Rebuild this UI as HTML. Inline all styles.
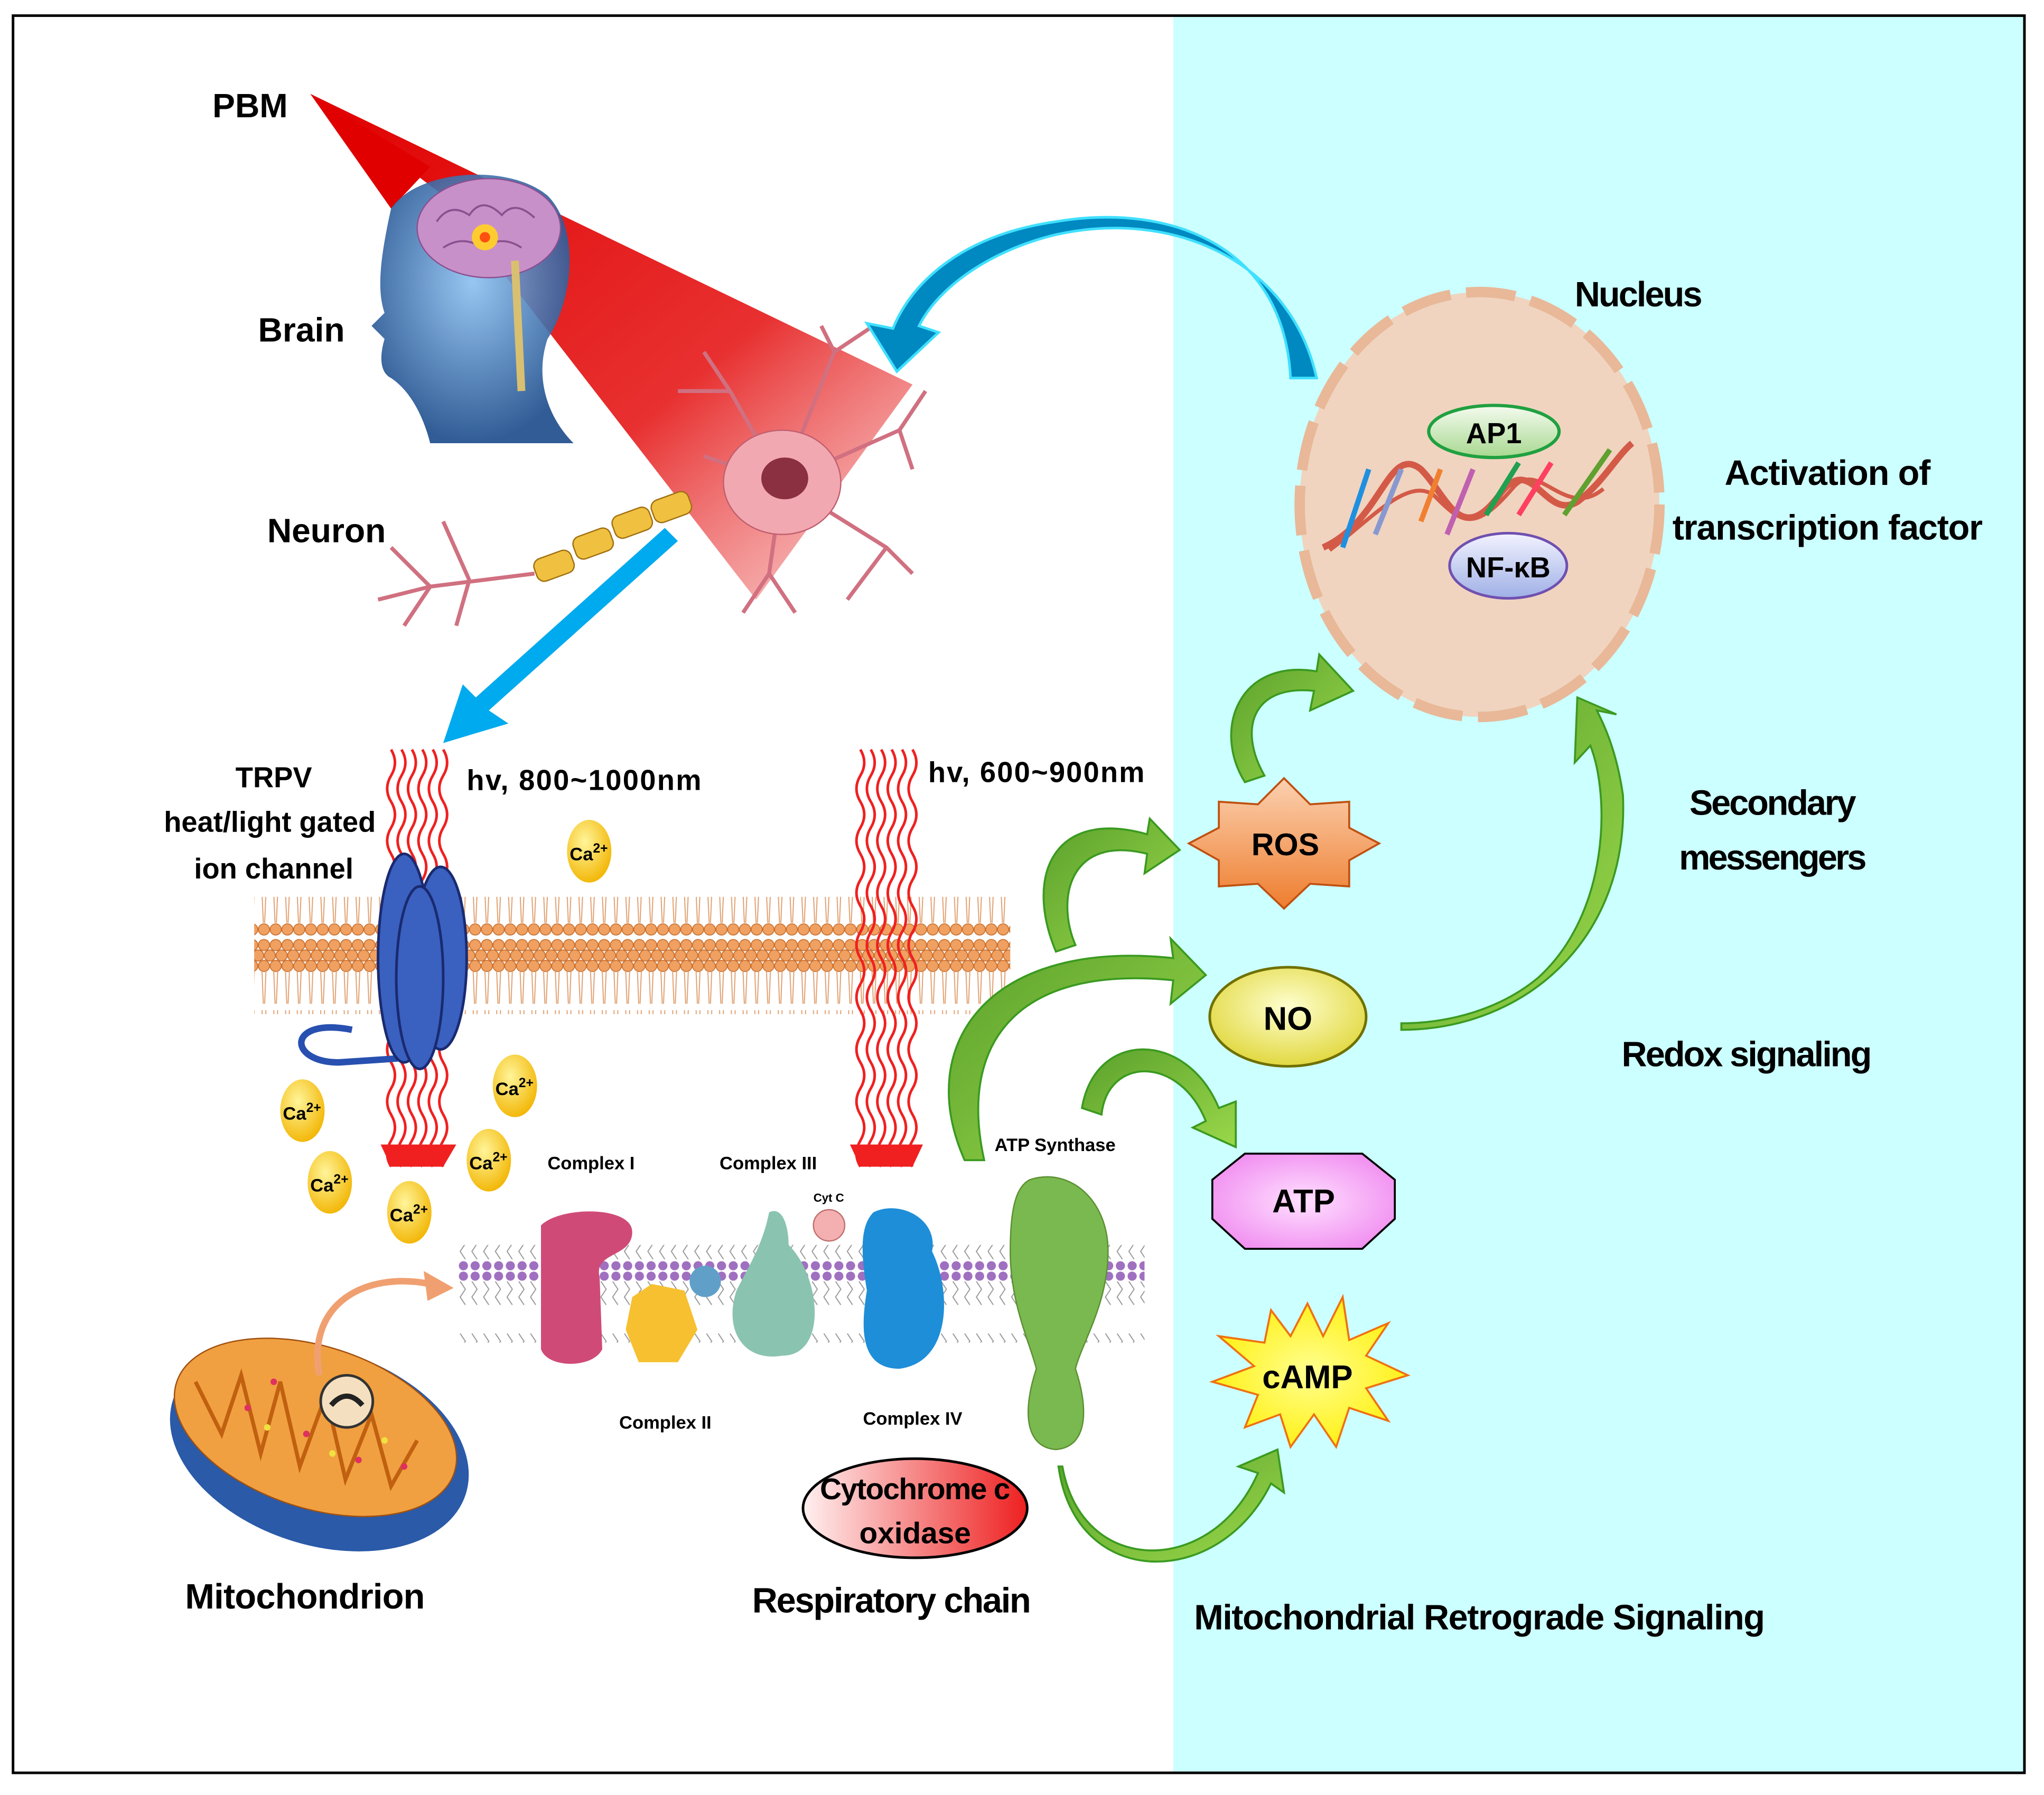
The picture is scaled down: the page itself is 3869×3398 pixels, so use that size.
<!DOCTYPE html>
<html><head><meta charset="utf-8"><style>
html,body{margin:0;padding:0;background:#fff}
svg{display:block}
text{font-family:"Liberation Sans",sans-serif;font-weight:bold;fill:#000}
</style></head><body>
<svg width="3869" height="3398" viewBox="0 0 1568 1377" preserveAspectRatio="none" xmlns="http://www.w3.org/2000/svg">
<defs>
<linearGradient id="beam" x1="0" y1="0" x2="1" y2="1"><stop offset="0" stop-color="#e00000"/><stop offset="0.6" stop-color="#e83030"/><stop offset="1" stop-color="#f6b0b0" stop-opacity="0.6"/></linearGradient>
<radialGradient id="head" cx="0.5" cy="0.4" r="0.6"><stop offset="0" stop-color="#8cc0f0"/><stop offset="1" stop-color="#1a4a8a"/></radialGradient>
<radialGradient id="ca" cx="0.4" cy="0.35" r="0.7"><stop offset="0" stop-color="#fff59a"/><stop offset="1" stop-color="#f2b400"/></radialGradient>
<linearGradient id="ap1" x1="0" y1="0" x2="0" y2="1"><stop offset="0" stop-color="#f4fbef"/><stop offset="1" stop-color="#a8d890"/></linearGradient>
<linearGradient id="nfkb" x1="0" y1="0" x2="0" y2="1"><stop offset="0" stop-color="#f3f3ff"/><stop offset="1" stop-color="#9fb0e6"/></linearGradient>
<linearGradient id="ros" x1="0" y1="0" x2="0" y2="1"><stop offset="0" stop-color="#fbd1b0"/><stop offset="1" stop-color="#ee7d2e"/></linearGradient>
<radialGradient id="no" cx="0.5" cy="0.4" r="0.6"><stop offset="0" stop-color="#ffffd0"/><stop offset="1" stop-color="#e1d840"/></radialGradient>
<radialGradient id="atp" cx="0.5" cy="0.5" r="0.6"><stop offset="0" stop-color="#ffe0ff"/><stop offset="1" stop-color="#f08cf0"/></radialGradient>
<radialGradient id="camp" cx="0.5" cy="0.5" r="0.6"><stop offset="0" stop-color="#ffff90"/><stop offset="1" stop-color="#ffee00"/></radialGradient>
<linearGradient id="cyto" x1="0" y1="0" x2="1" y2="0"><stop offset="0" stop-color="#fff0f0"/><stop offset="1" stop-color="#ee2020"/></linearGradient>
<linearGradient id="green" x1="0" y1="0" x2="1" y2="1"><stop offset="0" stop-color="#5aa02c"/><stop offset="1" stop-color="#9ad84a"/></linearGradient>
<pattern id="lipid" width="9" height="90" patternUnits="userSpaceOnUse">
<circle cx="4.5" cy="5" r="4.3" fill="#f0a060" stroke="#c87030" stroke-width="0.7"/>
<circle cx="0" cy="13" r="4.3" fill="#f0a060" stroke="#c87030" stroke-width="0.7"/>
<circle cx="9" cy="13" r="4.3" fill="#f0a060" stroke="#c87030" stroke-width="0.7"/>
<circle cx="4.5" cy="21" r="4.3" fill="#f0a060" stroke="#c87030" stroke-width="0.7"/>
<path d="M3 25 L4 50 M6 25 L5 50" stroke="#e0a070" stroke-width="0.8"/>
<path d="M3 55 L4 78 M6 55 L5 78" stroke="#e0a070" stroke-width="0.8"/>
<circle cx="4.5" cy="83" r="4.3" fill="#f0a060" stroke="#c87030" stroke-width="0.7"/>
</pattern>
<pattern id="lipid2" width="9" height="75" patternUnits="userSpaceOnUse">
<circle cx="4.5" cy="4" r="3.5" fill="#a070c0"/>
<path d="M2 8 L6 14 L2 20 L6 26" stroke="#999" stroke-width="0.8" fill="none"/>
<path d="M2 48 L6 54 L2 60 L6 66" stroke="#999" stroke-width="0.8" fill="none"/>
<circle cx="4.5" cy="71" r="3.5" fill="#a070c0"/>
</pattern>
<path id="wave" d="M0 0 q6 10 0 20 q-6 10 0 20 q6 10 0 20 q-6 10 0 20 q6 10 0 20 q-6 10 0 20 q6 10 0 20 q-6 10 0 20 q6 10 0 20 q-6 10 0 20 q6 10 0 20 q-6 10 0 20 q6 10 0 20 q-6 10 0 20 q6 10 0 20 q-6 10 0 20" fill="none" stroke="#f02020" stroke-width="2"/>
</defs>

<rect x="0" y="0" width="1568" height="1377" fill="#fff"/>
<rect x="900" y="12" width="653" height="1348" fill="#ccffff"/>
<rect x="10" y="12" width="1543" height="1348" fill="none" stroke="#000" stroke-width="2"/>

<polygon points="238,72 700,295 580,460 340,150" fill="url(#beam)"/>
<polygon points="238,72 330,128 300,160" fill="#e00000"/>

<path d="M300,160 C320,130 390,125 420,150 C445,175 440,230 420,260 C410,290 420,320 440,340 L330,340 C325,320 315,300 300,290 C290,285 292,270 295,260 L285,250 L295,240 C290,225 290,205 300,160Z" fill="url(#head)" opacity="0.9"/>
<ellipse cx="375" cy="175" rx="55" ry="38" fill="#c890c8" stroke="#8a5090"/>
<path d="M335,170 q10,-15 25,-5 q10,-15 25,0 q10,-12 25,2 M340,190 q15,-10 30,0 q15,-10 30,0" stroke="#8a5090" fill="none" stroke-width="1.5"/>
<circle cx="372" cy="182" r="10" fill="#ffcc30"/>
<circle cx="372" cy="182" r="4" fill="#ff5010"/>
<path d="M395 200 L400 300" stroke="#d9c070" stroke-width="6"/>

<g stroke="#d07080" stroke-width="3" fill="none">
<path d="M600,370 L560,300 L540,270 M560,300 L520,300 M600,370 L640,270 L630,250 M640,270 L670,250 M600,370 L690,330 L710,300 M690,330 L700,360 M600,370 L680,420 L700,440 M680,420 L650,460 M600,370 L590,440 L570,470 M590,440 L610,470 M600,370 L540,350"/>
<path d="M410,440 L330,450 L300,420 M330,450 L310,480 M360,445 L340,400 M360,445 L350,480 M330,450 L290,460"/>
</g>
<ellipse cx="600" cy="370" rx="45" ry="40" fill="#f2a8b0" stroke="#c06070"/>
<ellipse cx="602" cy="367" rx="18" ry="16" fill="#8a3040"/>
<g fill="#f0c040" stroke="#a07010">
<rect x="500" y="380" width="30" height="18" rx="6" transform="rotate(-20 515 389)"/>
<rect x="470" y="392" width="30" height="18" rx="6" transform="rotate(-20 485 401)"/>
<rect x="440" y="408" width="30" height="18" rx="6" transform="rotate(-20 455 417)"/>
<rect x="410" y="425" width="30" height="18" rx="6" transform="rotate(-20 425 434)"/>
</g>

<path d="M1010,290 C990,200 900,160 810,180 C760,192 720,220 705,250 L720,255 L688,285 L665,248 L685,252 C700,215 740,180 810,170 C900,155 985,190 990,290Z" fill="#0088c0" stroke="#40e0ff" stroke-width="2"/>
<path d="M520,415 L375,545 L390,555 L340,570 L355,525 L365,535 L510,405Z" fill="#00aaee"/>

<text x="163" y="90" font-size="26">PBM</text>
<text x="198" y="262" font-size="26">Brain</text>
<text x="205" y="416" font-size="26">Neuron</text>
<text x="210" y="604" font-size="22" text-anchor="middle">TRPV</text>
<text x="207" y="638" font-size="22" text-anchor="middle">heat/light gated</text>
<text x="210" y="674" font-size="22" text-anchor="middle">ion channel</text>
<text x="358" y="606" font-size="22" textLength="180">hv, 800~1000nm</text>
<text x="712" y="600" font-size="22" textLength="166">hv, 600~900nm</text>

<rect x="195" y="688" width="580" height="90" fill="url(#lipid)"/>

<g>
<use href="#wave" x="300" y="575"/><use href="#wave" x="308" y="575"/><use href="#wave" x="316" y="575"/><use href="#wave" x="324" y="575"/><use href="#wave" x="332" y="575"/><use href="#wave" x="340" y="575"/>
<use href="#wave" x="660" y="575"/><use href="#wave" x="668" y="575"/><use href="#wave" x="676" y="575"/><use href="#wave" x="684" y="575"/><use href="#wave" x="692" y="575"/><use href="#wave" x="700" y="575"/>
</g>
<polygon points="292,878 350,878 340,895 300,895" fill="#f02020"/>
<polygon points="652,878 708,878 700,895 660,895" fill="#f02020"/>

<g fill="#3a60c0" stroke="#1a2a70" stroke-width="2">
<path d="M270,790 C220,780 220,815 260,815 L305,812" fill="none" stroke="#2850b0" stroke-width="5"/>
<ellipse cx="310" cy="735" rx="20" ry="80"/>
<ellipse cx="338" cy="735" rx="20" ry="70"/>
<ellipse cx="322" cy="750" rx="18" ry="70"/>
</g>

<g font-size="14">
<ellipse cx="452" cy="653" rx="17" ry="24" fill="url(#ca)"/><text x="437" y="660">Ca<tspan font-size="10" dy="-6">2+</tspan></text>
<ellipse cx="395" cy="833" rx="17" ry="24" fill="url(#ca)"/><text x="380" y="840">Ca<tspan font-size="10" dy="-6">2+</tspan></text>
<ellipse cx="232" cy="852" rx="17" ry="24" fill="url(#ca)"/><text x="217" y="859">Ca<tspan font-size="10" dy="-6">2+</tspan></text>
<ellipse cx="375" cy="890" rx="17" ry="24" fill="url(#ca)"/><text x="360" y="897">Ca<tspan font-size="10" dy="-6">2+</tspan></text>
<ellipse cx="253" cy="907" rx="17" ry="24" fill="url(#ca)"/><text x="238" y="914">Ca<tspan font-size="10" dy="-6">2+</tspan></text>
<ellipse cx="314" cy="930" rx="17" ry="24" fill="url(#ca)"/><text x="299" y="937">Ca<tspan font-size="10" dy="-6">2+</tspan></text>
</g>

<rect x="350" y="955" width="528" height="75" fill="url(#lipid2)"/>
<path d="M415,940 C430,925 485,925 485,945 C485,965 455,960 460,980 L462,1035 C455,1050 420,1050 415,1035Z" fill="#d04a78"/>
<path d="M485,995 L500,985 L525,990 L535,1020 L520,1045 L490,1045 L480,1020Z" fill="#f6c030"/>
<circle cx="541" cy="983" r="12" fill="#60a0c8"/>
<path d="M590,930 C600,925 605,940 605,955 C630,980 635,1040 600,1040 C570,1045 555,1020 565,990 C575,970 585,955 590,930Z" fill="#8ac4b0"/>
<circle cx="636" cy="940" r="12" fill="#f4b0b0" stroke="#c07070"/>
<path d="M670,930 C690,920 720,935 715,960 C730,990 730,1045 690,1050 C660,1050 660,1020 665,990 C660,960 660,940 670,930Z" fill="#1e8ed8"/>
<path d="M790,905 C820,895 850,920 850,960 C850,1000 830,1030 825,1050 C835,1080 835,1110 810,1112 C785,1110 785,1080 795,1050 C790,1030 775,1000 775,960 C775,925 780,910 790,905Z" fill="#7ab850" stroke="#5a9030"/>
<g font-size="14">
<text x="420" y="897">Complex I</text>
<text x="552" y="897">Complex III</text>
<text x="624" y="922" font-size="9">Cyt C</text>
<text x="763" y="883">ATP Synthase</text>
<text x="475" y="1096">Complex II</text>
<text x="662" y="1093">Complex IV</text>
</g>

<ellipse cx="245" cy="1110" rx="118" ry="75" fill="#2a5aa8" transform="rotate(18 245 1110)"/>
<ellipse cx="242" cy="1095" rx="112" ry="62" fill="#f0a040" stroke="#a05010" transform="rotate(18 242 1095)"/>
<path d="M150,1060 L170,1100 L185,1055 L200,1115 L215,1060 L230,1125 L250,1070 L265,1135 L285,1085 L300,1140 L320,1105" fill="none" stroke="#c06010" stroke-width="3"/>
<g fill="#e03060"><circle cx="190" cy="1080" r="2.5"/><circle cx="235" cy="1100" r="2.5"/><circle cx="275" cy="1120" r="2.5"/><circle cx="310" cy="1125" r="2.5"/><circle cx="210" cy="1060" r="2.5"/></g>
<g fill="#f0e040"><circle cx="205" cy="1095" r="2.5"/><circle cx="255" cy="1115" r="2.5"/><circle cx="295" cy="1105" r="2.5"/></g>
<circle cx="266" cy="1075" r="20" fill="#f4e0c0" stroke="#333" stroke-width="2"/>
<path d="M254,1078 q12,-14 24,0" stroke="#222" stroke-width="4" fill="none"/>
<path d="M245,1055 C235,1000 280,975 330,985" fill="none" stroke="#f0a070" stroke-width="5"/>
<polygon points="348,988 325,975 328,998" fill="#f0a070"/>

<ellipse cx="702" cy="1157" rx="86" ry="38" fill="url(#cyto)" stroke="#000" stroke-width="2"/>
<text x="702" y="1150" font-size="23" text-anchor="middle" textLength="146">Cytochrome c</text>
<text x="702" y="1184" font-size="23" text-anchor="middle">oxidase</text>

<text x="142" y="1234" font-size="27" textLength="184">Mitochondrion</text>
<text x="577" y="1237" font-size="27" textLength="214">Respiratory chain</text>
<text x="916" y="1250" font-size="27" textLength="438">Mitochondrial Retrograde Signaling</text>

<ellipse cx="1135" cy="387" rx="138" ry="163" fill="#f0d4c0" stroke="#e8b898" stroke-width="8" stroke-dasharray="38,12"/>
<path d="M1015,420 C1060,400 1065,340 1090,360 C1110,380 1120,420 1150,380 C1175,345 1185,400 1210,385 C1230,370 1240,350 1252,340" fill="none" stroke="#d45a48" stroke-width="5"/>
<path d="M1020,422 C1050,400 1080,365 1100,380 C1120,400 1130,410 1160,375 C1180,350 1200,400 1230,375" fill="none" stroke="#d45a48" stroke-width="3"/>
<g stroke-width="4">
<path d="M1050,360 L1030,420" stroke="#1e90e0"/><path d="M1075,360 L1055,410" stroke="#8898d0"/>
<path d="M1105,360 L1090,400" stroke="#f08030"/><path d="M1130,360 L1110,410" stroke="#c060b0"/>
<path d="M1165,355 L1140,395" stroke="#20a050"/><path d="M1190,355 L1165,395" stroke="#ff4060"/><path d="M1235,345 L1200,395" stroke="#60a030"/>
</g>
<ellipse cx="1146" cy="331" rx="50" ry="20" fill="url(#ap1)" stroke="#20a040" stroke-width="2.5"/>
<text x="1146" y="340" font-size="22" text-anchor="middle">AP1</text>
<ellipse cx="1157" cy="434" rx="45" ry="25" fill="url(#nfkb)" stroke="#7050b0" stroke-width="2"/>
<text x="1157" y="443" font-size="22" text-anchor="middle">NF-κB</text>

<text x="1208" y="235" font-size="27" textLength="98">Nucleus</text>
<text x="1402" y="372" font-size="27" text-anchor="middle" textLength="158">Activation of</text>
<text x="1402" y="414" font-size="27" text-anchor="middle" textLength="238">transcription factor</text>
<text x="1360" y="625" font-size="27" text-anchor="middle" textLength="128">Secondary</text>
<text x="1360" y="667" font-size="27" text-anchor="middle" textLength="144">messengers</text>
<text x="1340" y="818" font-size="27" text-anchor="middle" textLength="192">Redox signaling</text>

<g fill="url(#green)" stroke="#3a9a20" stroke-width="1.5">
<path d="M955,600 C930,560 950,505 1010,515 L1012,502 L1038,530 L1005,545 L1008,530 C960,525 950,560 970,595Z"/>
<path d="M810,730 C785,670 810,620 880,640 L882,628 L905,652 L878,670 L880,655 C820,640 810,690 825,725Z"/>
<path d="M740,890 C700,800 760,720 900,735 L898,720 L925,748 L898,770 L900,752 C780,740 735,800 755,890Z"/>
<path d="M830,850 C840,790 910,790 935,850 L948,845 L948,880 L915,865 L925,860 C905,810 850,810 845,855Z"/>
<path d="M815,1125 C830,1210 930,1210 965,1130 L950,1125 L980,1112 L985,1145 L975,1138 C935,1220 825,1220 812,1125Z"/>
<path d="M1075,790 C1170,790 1250,720 1245,610 C1240,575 1230,555 1225,545 L1240,548 L1210,535 L1208,585 L1220,572 C1235,610 1235,700 1180,750 C1150,775 1110,785 1075,785Z"/>
</g>

<polygon points="985,597 1005,617 1035,615 1035,635 1058,647 1035,660 1035,680 1005,678 985,697 965,678 935,680 935,660 912,647 935,635 935,615 965,617" fill="url(#ros)" stroke="#c05010" stroke-width="1.5"/>
<text x="986" y="656" font-size="24" text-anchor="middle">ROS</text>
<ellipse cx="988" cy="780" rx="60" ry="38" fill="url(#no)" stroke="#707000" stroke-width="2"/>
<text x="988" y="790" font-size="25" text-anchor="middle">NO</text>
<polygon points="955,885 1045,885 1070,905 1070,935 1045,958 955,958 930,935 930,905" fill="url(#atp)" stroke="#000" stroke-width="1.5"/>
<text x="1000" y="930" font-size="25" text-anchor="middle">ATP</text>
<polygon points="1003,1000 1015,1025 1030,995 1035,1028 1065,1015 1048,1040 1080,1055 1048,1065 1065,1090 1035,1080 1025,1110 1008,1085 990,1110 982,1085 955,1095 965,1070 930,1060 962,1048 935,1025 970,1030 975,1005 990,1025" fill="url(#camp)" stroke="#f07010" stroke-width="1.5"/>
<text x="1003" y="1065" font-size="25" text-anchor="middle">cAMP</text>
</svg>
</body></html>
